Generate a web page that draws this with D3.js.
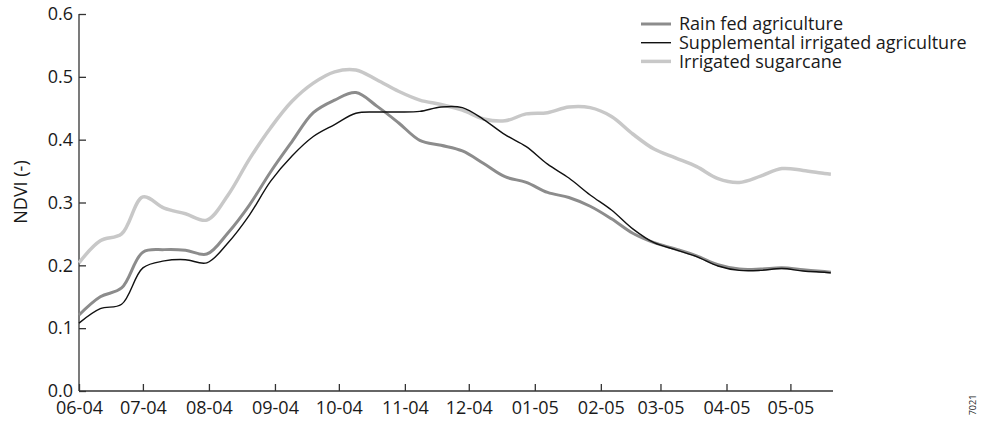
<!DOCTYPE html>
<html>
<head>
<meta charset="utf-8">
<script src="https://cdn.jsdelivr.net/npm/d3@7"></script>
<style>
  body { margin: 0; background: #fff; }
  text { font-family: "Open Sans", sans-serif; fill: #1a1a1a; }
</style>
</head>
<body>
<div id="chart"></div>
<script>
// Data (days after 1 June 2004)
const dayOffsets = [0, 10, 20, 30, 40, 50, 60, 70, 80, 90, 100, 110, 120, 130, 140, 150, 160, 170,
  180, 190, 200, 210, 220, 230, 240, 250, 260, 270, 280, 290, 300, 310, 320, 330, 340, 350, 353]

const rainFed = [0.121, 0.150, 0.164, 0.221, 0.225, 0.224, 0.218, 0.252, 0.296, 0.349, 0.397, 0.443,
  0.463, 0.475, 0.453, 0.427, 0.399, 0.391, 0.382, 0.362, 0.341, 0.332, 0.316, 0.308, 0.294, 0.274,
  0.251, 0.236, 0.226, 0.215, 0.201, 0.194, 0.194, 0.196, 0.193, 0.190, 0.189]

const supplemental = [0.108, 0.131, 0.138, 0.196, 0.207, 0.209, 0.204, 0.236, 0.280, 0.334, 0.374, 0.405,
  0.424, 0.442, 0.444, 0.444, 0.445, 0.452, 0.451, 0.432, 0.408, 0.389, 0.361, 0.339, 0.312, 0.288,
  0.258, 0.236, 0.225, 0.214, 0.199, 0.192, 0.192, 0.195, 0.191, 0.189, 0.188]

const sugarcane = [0.204, 0.239, 0.250, 0.309, 0.291, 0.282, 0.272, 0.312, 0.369, 0.419, 0.461, 0.490,
  0.508, 0.511, 0.495, 0.477, 0.463, 0.456, 0.447, 0.433, 0.430, 0.441, 0.443, 0.452, 0.451, 0.437,
  0.409, 0.385, 0.371, 0.357, 0.338, 0.332, 0.342, 0.354, 0.351, 0.346, 0.345]

const seriesNames = ['Rain fed agriculture', 'Supplemental irrigated agriculture', 'Irrigated sugarcane']
const yTicks = [0, 0.1, 0.2, 0.3, 0.4, 0.5, 0.6]

const startDate = new Date(2004, 5, 1)
const endDate = new Date(2005, 4, 21)
const dates = dayOffsets.map(d => d3.timeDay.offset(startDate, d))

const series = [
  { name: seriesNames[0], values: rainFed, color: '#8c8c8c', width: 3 },
  { name: seriesNames[1], values: supplemental, color: '#111', width: 1.4 },
  { name: seriesNames[2], values: sugarcane, color: '#c8c8c8', width: 3.5 }
]

// Canvas
const W = 988, H = 424
const m = { left: 79, right: 155, top: 14, bottom: 33 }
const w = W - m.left - m.right
const h = H - m.top - m.bottom
const fontSize = '18px'

const svg = d3.select('#chart').append('svg')
  .attr('width', W)
  .attr('height', H)

const g = svg.append('g')
  .attr('transform', `translate(${m.left}, ${m.top})`)

// Scales
const xScale = d3.scaleTime().domain([startDate, endDate]).range([0, w])
const yScale = d3.scaleLinear().domain([0, 0.6]).range([h, 0])

// Axes
const xAxis = d3.axisBottom(xScale)
  .ticks(d3.timeMonth.every(1))
  .tickFormat(d3.timeFormat('%m-%y'))
  .tickSizeInner(-7)
  .tickSizeOuter(0)
  .tickPadding(10)

const yAxis = d3.axisLeft(yScale)
  .tickValues(yTicks)
  .tickFormat(d3.format('.1f'))
  .tickSizeInner(-7)
  .tickSizeOuter(0)
  .tickPadding(6)

const xAxisCall = g.append('g')
  .attr('transform', `translate(0, ${h})`)
  .call(xAxis)

const yAxisCall = g.append('g').call(yAxis)

;[xAxisCall, yAxisCall].forEach(a => {
  a.selectAll('path, line').attr('stroke', '#333').attr('stroke-width', 1.3)
  a.selectAll('text').style('font-size', fontSize).attr('fill', '#1a1a1a')
})
xAxisCall.select('.domain').attr('d', `M0,0H${w}`)
yAxisCall.select('.domain').attr('d', `M0,${h}V0`)

// Lines
const line = d3.line()
  .x((d, i) => xScale(dates[i]))
  .y(d => yScale(d))
  .curve(d3.curveCatmullRom.alpha(0.5))

const drawOrder = [series[2], series[0], series[1]]
g.selectAll('.series')
  .data(drawOrder).enter()
  .append('path')
  .attr('class', 'series')
  .attr('fill', 'none')
  .attr('stroke', d => d.color)
  .attr('stroke-width', d => d.width)
  .attr('stroke-linejoin', 'round')
  .attr('d', d => line(d.values))

// Y label
svg.append('text')
  .attr('transform', `translate(27, 192) rotate(-90)`)
  .attr('text-anchor', 'middle')
  .style('font-size', fontSize)
  .text('NDVI (-)')

// Legend
const legend = svg.append('g').attr('transform', 'translate(641, 24)')
const item = legend.selectAll('g')
  .data(series).enter()
  .append('g')
  .attr('transform', (d, i) => `translate(0, ${i * 18.7})`)

item.append('line')
  .attr('x1', 0).attr('x2', 30)
  .attr('stroke', d => d.color)
  .attr('stroke-width', d => d.width)

item.append('text')
  .attr('x', 38)
  .attr('dy', '0.35em')
  .style('font-size', fontSize)
  .text(d => d.name)

// Figure number
svg.append('text')
  .attr('transform', 'translate(976, 405) rotate(-90)')
  .attr('text-anchor', 'middle')
  .style('font-size', '9px')
  .text('7021')
</script>
</body>
</html>
